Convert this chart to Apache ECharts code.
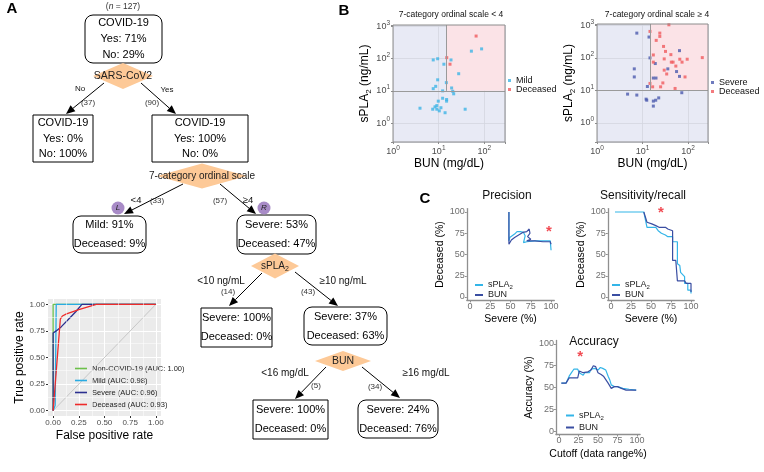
<!DOCTYPE html>
<html><head><meta charset="utf-8">
<script src="https://cdn.jsdelivr.net/npm/echarts@6/dist/echarts.min.js"></script>
<style>html,body{margin:0;padding:0;background:#fff}#c{width:764px;height:472px}</style>
</head><body><div id="c"></div>
<script>
// ================= DATA =================
// Panel A - decision tree texts
const rootBox = ['COVID-19', 'Yes: 71%', 'No: 29%'];
const noCovBox = ['COVID-19', 'Yes: 0%', 'No: 100%'];
const yesCovBox = ['COVID-19', 'Yes: 100%', 'No: 0%'];
const mildBox = ['Mild: 91%', 'Deceased: 9%'];
const severeBox = ['Severe: 53%', 'Deceased: 47%'];
const lowSplaBox = ['Severe: 100%', 'Deceased: 0%'];
const highSplaBox = ['Severe: 37%', 'Deceased: 63%'];
const lowBunBox = ['Severe: 100%', 'Deceased: 0%'];
const highBunBox = ['Severe: 24%', 'Deceased: 76%'];
const splitNames = ['SARS-CoV2', '7-category ordinal scale', '{a|sPLA}{s|2}', 'BUN'];
const edgeConds = ['No', 'Yes', '<4', '≥4', '<10 ng/mL', '≥10 ng/mL', '<16 mg/dL', '≥16 mg/dL'];
const edgeCounts = ['(37)', '(90)', '(33)', '(57)', '(14)', '(43)', '(5)', '(34)'];
const leafTags = ['L', 'R'];
const sampleSize = '{i|n}{r| = 127)}';

// Panel A - ROC curves [FPR, TPR]
const rocTicks = [0, 0.25, 0.5, 0.75, 1];
const rocMinorTicks = [0.125, 0.375, 0.625, 0.875];
const rocNames = ['Non-COVID-19 (AUC: 1.00)', 'Mild (AUC: 0.98)', 'Severe (AUC: 0.96)', 'Deceased (AUC: 0.93)'];
const rocDiagonal = [[0, 0], [1, 1]];
const rocNonCovid = [[0, 0], [0, 1], [1, 1]];
const rocMild = [[0, 0], [0.02, 0.05], [0.03, 1], [1, 1]];
const rocSevere = [[0, 0], [0, 0.73], [0.03, 0.75], [0.08, 0.79], [0.15, 0.86], [0.22, 0.93], [0.28, 1], [1, 1]];
const rocDeceased = [[0, 0], [0.07, 0.86], [0.09, 0.89], [0.13, 0.91], [0.25, 0.95], [0.42, 1], [1, 1]];

// Panel B - scatter [BUN mg/dL, sPLA2 ng/mL]
const bunCut = 15, splaCut = 10;
const bXMax = [283, 275];
const bYMin = 0.26, bYMax = 1100;
const mildLow = [[87,200],[52,170],[9.5,99],[7.6,91],[18.6,91],[13,67],[27.4,34],[9.5,22],[14.7,18],[8.6,13.8],[7.6,11.7],[19.2,12.3],[12.2,10],[20.3,9.7],[21.3,8.1],[12.2,5.9],[14.9,5.4],[14.9,4.8],[9.8,4.8],[9.1,3.5],[11.2,3.0],[8.3,3.2],[7.4,2.7],[9.1,2.7],[10.3,2.4],[3.9,2.9],[38,2.7],[13.8,2.1]];
const deceasedLow = [[66,500],[15,107],[17.7,67]];
const severeHigh = [[7.5,577],[13.9,437],[65,167],[14.6,100],[19.1,67],[6.6,46],[36,46],[56,38],[6.6,26],[17.3,24],[19.8,24],[65,27],[12.8,13.2],[4.7,7.7],[7.5,7.2],[73,8.5],[12,5.4],[12.4,5.0],[22.7,5.9],[17.3,4.7],[19.5,5.0],[17.3,3.3]];
const deceasedHigh = [[38,1040],[14.6,650],[24,577],[24,457],[20,345],[29,225],[32,158],[42,126],[17.3,123],[66,91],[96,91],[206,102],[17.3,74],[30,93],[43,74],[47,74],[54,56],[74,74],[30,42],[34,32],[86,26],[14.6,16.4],[16.7,12.9],[25,12.9],[28,17],[52,11.5]];

// Panel C
const pctTicks = [0, 25, 50, 75, 100];
const precSpla = [[48,100],[48,66],[49,70],[52,72],[55,74],[58,77],[62,77],[66,76],[68,72],[66,64],[70,65],[80,66],[90,66],[99,66],[100,64],[100,55]];
const precBun = [[48,100],[48,62],[51,67],[55,70],[60,73],[65,76],[70,77],[73,80],[74,75],[71,71],[75,68],[70,66],[80,66],[90,65],[99,65],[100,62]];
const sensSpla = [[5,100],[41,100],[45,82],[56,82],[59,78],[63,75],[68,73],[71,71],[77,71],[77,65],[83,65],[83,39],[86,37],[87,29],[92,24],[92,16],[96,16],[96,8],[100,8],[100,4]];
const sensBun = [[41,100],[45,88],[51,86],[56,84],[60,82],[68,82],[71,80],[77,78],[77,43],[81,43],[83,19],[92,19],[94,16],[100,16],[100,6]];
const accSpla = [[3,55],[9,55],[13,63],[16,67],[19,71],[24,71],[26,67],[31,64],[33,67],[39,67],[41,71],[46,72],[50,70],[53,73],[56,72],[60,70],[63,63],[65,59],[67,53],[71,51],[75,51],[82,49],[90,48],[99,47]];
const accBun = [[3,55],[9,55],[13,61],[20,61],[24,61],[26,69],[31,67],[33,69],[37,68],[41,70],[44,75],[47,74],[50,67],[54,65],[57,63],[60,59],[63,55],[67,49],[71,51],[75,51],[80,49],[86,47],[94,47],[99,47]];
const starPrec = [[97.5, 77]], starSens = [[62.5, 99]], starAcc = [[27, 85]];

// ================= LAYOUT / STYLE =================
const FONT = 'Liberation Sans, Arial, sans-serif';
const C_MILD = '#3DB4E6', C_DEC = '#F05A5E', C_SEV = '#4B5AAE';
const C_SPLA = '#33B5E8', C_BUN = '#3A4EA2';
const ROC_COLORS = ['#6CC04A', '#29ABE2', '#2B2F8F', '#EE2A2A'];

const boxLayout = [ // x, y, w, h, radius
  [85,15,77,48,8],[33,115,60,47,0],[152,115,96,47,0],[73,216,73,37,8],[237,215,79,39,8],
  [201,308,71,39,0],[304,307,83,38,8],[253,400,75,39,0],[358,400,80,38,8]
];
const boxTexts = [rootBox, noCovBox, yesCovBox, mildBox, severeBox, lowSplaBox, highSplaBox, lowBunBox, highBunBox];
const diamondLayout = [[123,76,30,13,10.5],[202,176,45,12.5,10],[275,266,24,12.5,10],[343,361,28,10,10.5]];
const arrowLayout = [[104,83,66,114],[141,83,176,114],[183,184,124,214],[220,184,256,214],[262,273,229,306],[295,272,338,306],[326,367,295,399],[362,367,400,398]];
const condLayout = [[80,89,8],[167,90,8],[136,200,9.5],[248,200,9.5],[221,281,10],[343,281,10],[285,373,10],[426,373,10]];
const countLayout = [[88,103],[152,103],[157,201],[220,201],[228,292],[308,292],[316,386],[375,387]];
const tagLayout = [[118,208],[264,208]];

function txt(x, y, text, size, extra) {
  return { type: 'text', silent: true, z: 20,
    style: Object.assign({ x: x, y: y, text: text, font: size + 'px ' + FONT, fill: '#000',
      textAlign: 'center', textVerticalAlign: 'middle' }, extra || {}) };
}
const graphics = [];
// panel letters
graphics.push(txt(12, 9, 'A', 15, { font: 'bold 15px ' + FONT }));
graphics.push(txt(344, 11, 'B', 15, { font: 'bold 15px ' + FONT }));
graphics.push(txt(425, 199, 'C', 15, { font: 'bold 15px ' + FONT }));
graphics.push(txt(123, 7, '(' + sampleSize, 8.5, { rich: { i: { fontStyle: 'italic', fontSize: 8.5, fontFamily: FONT, fill: '#333' }, r: { fontSize: 8.5, fontFamily: FONT, fill: '#333' } }, fill: '#333' }));
// boxes
boxLayout.forEach(function (b, i) {
  graphics.push({ type: 'rect', silent: true, z: 10, shape: { x: b[0], y: b[1], width: b[2], height: b[3], r: b[4] },
    style: { fill: '#fff', stroke: '#000', lineWidth: 1 } });
  const lines = boxTexts[i];
  lines.forEach(function (t, k) {
    graphics.push(txt(b[0] + b[2] / 2, b[1] + b[3] * (k + 0.5) / lines.length, t, 11));
  });
});
// diamonds
diamondLayout.forEach(function (d, i) {
  graphics.push({ type: 'polygon', silent: true, z: 10,
    shape: { points: [[d[0], d[1] - d[3]], [d[0] + d[2], d[1]], [d[0], d[1] + d[3]], [d[0] - d[2], d[1]]] },
    style: { fill: '#FDC997' } });
  graphics.push(txt(d[0], d[1], splitNames[i], d[4], { fill: '#222',
    rich: { a: { fontSize: d[4], fontFamily: FONT, fill: '#222' }, s: { fontSize: 7, fontFamily: FONT, fill: '#222', padding: [6, 0, 0, 0] } } }));
});
// arrows
arrowLayout.forEach(function (a) {
  const dx = a[2] - a[0], dy = a[3] - a[1], L = Math.sqrt(dx * dx + dy * dy);
  const ux = dx / L, uy = dy / L, nx = -uy, ny = ux;
  const bx = a[2] - ux * 9, by = a[3] - uy * 9;
  graphics.push({ type: 'line', silent: true, z: 10, shape: { x1: a[0], y1: a[1], x2: bx, y2: by }, style: { stroke: '#000', lineWidth: 1 } });
  graphics.push({ type: 'polygon', silent: true, z: 10,
    shape: { points: [[a[2], a[3]], [bx + nx * 3.8, by + ny * 3.8], [bx - nx * 3.8, by - ny * 3.8]] }, style: { fill: '#000' } });
});
condLayout.forEach(function (c, i) { graphics.push(txt(c[0], c[1], edgeConds[i], c[2], { fill: '#111' })); });
countLayout.forEach(function (c, i) { graphics.push(txt(c[0], c[1], edgeCounts[i], 8, { fill: '#333' })); });
tagLayout.forEach(function (c, i) {
  graphics.push({ type: 'circle', silent: true, z: 10, shape: { cx: c[0], cy: c[1], r: 6.5 }, style: { fill: '#A88BC7' } });
  graphics.push(txt(c[0], c[1], leafTags[i], 8, { font: 'italic 8px ' + FONT, fill: '#222' }));
});
// B panel frames
graphics.push({ type: 'rect', silent: true, z: 30, shape: { x: 393, y: 25, width: 112, height: 117 }, style: { fill: 'none', stroke: '#8c8c8c', lineWidth: 1 } });
graphics.push({ type: 'rect', silent: true, z: 30, shape: { x: 597, y: 24, width: 111, height: 118 }, style: { fill: 'none', stroke: '#8c8c8c', lineWidth: 1 } });

// ================= AXES =================
function rocAxis(isY) {
  return {
    type: 'value', gridIndex: 0, min: -0.05, max: 1.05,
    axisLine: { show: false, onZero: false },
    axisTick: { show: true, customValues: rocTicks, length: 2, lineStyle: { color: '#333' } },
    axisLabel: { customValues: rocTicks, fontSize: 8, color: '#4D4D4D', margin: 3, fontFamily: FONT,
      formatter: function (v) { return v.toFixed(2); } },
    splitLine: { show: true, lineStyle: { color: '#fff', width: 1 } },
    name: isY ? 'True positive rate' : 'False positive rate', nameLocation: 'middle', nameGap: isY ? 22 : 13.5,
    nameTextStyle: { fontSize: 12, color: '#000', fontFamily: FONT }
  };
}
function supFmt(v) {
  const e = Math.log10(v);
  if (Math.abs(e - Math.round(e)) > 1e-6) return '';
  return '{b|10}{s|' + Math.round(e) + '}';
}
const supRich = { b: { fontSize: 9, color: '#4D4D4D', fontFamily: FONT }, s: { fontSize: 6.5, color: '#4D4D4D', fontFamily: FONT, padding: [0, 0, 7, 0] } };
function logAxis(grid, isY, max, min) {
  return {
    type: 'log', logBase: 10, gridIndex: grid, min: min, max: max,
    axisLine: { show: false, onZero: false },
    axisTick: { show: true, length: 2, lineStyle: { color: '#8c8c8c' } },
    axisLabel: { formatter: supFmt, rich: supRich, margin: 3, showMinLabel: true, showMaxLabel: true },
    splitLine: { show: true, lineStyle: { color: '#D3D6E0', width: 0.8 } },
    name: isY ? '{a|sPLA}{s|2}{a| (ng/mL)}' : 'BUN (mg/dL)', nameLocation: 'middle', nameGap: isY ? 17 : 14,
    nameTextStyle: { fontSize: 12, color: '#000', fontFamily: FONT,
      rich: { a: { fontSize: 12, color: '#000', fontFamily: FONT }, s: { fontSize: 8, color: '#000', fontFamily: FONT, padding: [7, 0, 0, 0] } } }
  };
}
function pctAxis(grid, name, gap) {
  return {
    type: 'value', gridIndex: grid, min: -4, max: 104,
    axisLine: { show: true, onZero: false, lineStyle: { color: '#8f8f8f', width: 1.3 } },
    axisTick: { show: true, customValues: pctTicks, length: 2, lineStyle: { color: '#8f8f8f' } },
    axisLabel: { customValues: pctTicks, fontSize: 9, color: '#6f6f6f', margin: 2, fontFamily: FONT },
    splitLine: { show: false },
    name: name, nameLocation: 'middle', nameGap: gap,
    nameTextStyle: { fontSize: 10.5, color: '#000', fontFamily: FONT }
  };
}

// ================= SERIES =================
function lineS(name, data, color, xi, width) {
  return { type: 'line', name: name, data: data, xAxisIndex: xi, yAxisIndex: xi, symbol: 'none', silent: true,
    lineStyle: { color: color, width: width || 1.2 }, itemStyle: { color: color }, z: 3 };
}
function dotS(name, data, color, xi) {
  return { type: 'scatter', name: name, data: data, xAxisIndex: xi, yAxisIndex: xi, symbol: 'rect', symbolSize: 3,
    itemStyle: { color: color }, silent: true, z: 4 };
}
function starS(data, xi) {
  return { type: 'scatter', data: data, xAxisIndex: xi, yAxisIndex: xi, symbolSize: 1, silent: true,
    itemStyle: { color: 'rgba(0,0,0,0)' },
    label: { show: true, position: 'inside', formatter: '*', color: '#EE1C25', fontSize: 15, fontWeight: 'bold', fontFamily: FONT }, z: 5 };
}
const series = [];
series.push(Object.assign(lineS('diag', rocDiagonal, '#BDBDBD', 0, 0.8), {
  markLine: { silent: true, symbol: ['none', 'none'], label: { show: false }, animation: false,
    lineStyle: { color: '#fff', width: 0.5, type: 'solid' },
    data: rocMinorTicks.map(function (v) { return { xAxis: v }; }).concat(rocMinorTicks.map(function (v) { return { yAxis: v }; })) }
}));
series.push(lineS(rocNames[0], rocNonCovid, ROC_COLORS[0], 0, 1.3));
series.push(lineS(rocNames[1], rocMild, ROC_COLORS[1], 0, 1.3));
series.push(lineS(rocNames[2], rocSevere, ROC_COLORS[2], 0, 1.3));
series.push(lineS(rocNames[3], rocDeceased, ROC_COLORS[3], 0, 1.3));

function bMarks(maxX) {
  return {
    markArea: { silent: true, itemStyle: { color: '#FBE3E7' }, data: [[{ coord: [bunCut, splaCut] }, { coord: [maxX, bYMax] }]] },
    markLine: { silent: true, symbol: ['none', 'none'], label: { show: false }, animation: false,
      lineStyle: { color: '#9a9a9a', width: 1, type: 'solid' },
      data: [[{ coord: [bunCut, splaCut] }, { coord: [bunCut, bYMax] }], { yAxis: splaCut }] }
  };
}
series.push(Object.assign(dotS('Mild', mildLow, C_MILD, 1), bMarks(bXMax[0])));
series.push(dotS('Deceased', deceasedLow, C_DEC, 1));
series.push(Object.assign(dotS('Severe', severeHigh, C_SEV, 2), bMarks(bXMax[1])));
series.push(dotS('Deceased ', deceasedHigh, C_DEC, 2));

series.push(lineS('sPLA2', precSpla, C_SPLA, 3));
series.push(lineS('BUN', precBun, C_BUN, 3));
series.push(starS(starPrec, 3));
series.push(lineS('sPLA2 ', sensSpla, C_SPLA, 4));
series.push(lineS('BUN ', sensBun, C_BUN, 4));
series.push(starS(starSens, 4));
series.push(lineS('sPLA2  ', accSpla, C_SPLA, 5));
series.push(lineS('BUN  ', accBun, C_BUN, 5));
series.push(starS(starAcc, 5));

// ================= LEGENDS =================
function cLegend(names, left, top, gap) {
  return { data: names, left: left, top: top, orient: 'vertical', icon: 'rect', itemWidth: 8, itemHeight: 2, itemGap: gap,
    padding: 0, selectedMode: false,
    formatter: function (n) { n = n.trim(); return n === 'sPLA2' ? '{a|sPLA}{s|2}' : '{a|' + n + '}'; },
    textStyle: { fontSize: 9, lineHeight: 9, color: '#222', fontFamily: FONT,
      rich: { a: { fontSize: 9, color: '#222', fontFamily: FONT }, s: { fontSize: 6, color: '#222', fontFamily: FONT, padding: [5, 0, 0, 0] } } } };
}
function bLegend(names, left, top) {
  return { data: names, left: left, top: top, orient: 'vertical', icon: 'rect', itemWidth: 3, itemHeight: 3, itemGap: 0,
    padding: 0, selectedMode: false, textStyle: { fontSize: 9, lineHeight: 9, color: '#111', fontFamily: FONT } };
}
const legends = [
  { data: rocNames, left: 75, top: 363, orient: 'vertical', icon: 'rect', itemWidth: 12, itemHeight: 1.6, itemGap: 1,
    padding: 0, selectedMode: false, textStyle: { fontSize: 7.5, lineHeight: 11, color: '#222', fontFamily: FONT } },
  bLegend(['Mild', 'Deceased'], 508, 76),
  bLegend(['Severe', 'Deceased '], 711, 78),
  cLegend(['sPLA2', 'BUN'], 475, 280.5, 0),
  cLegend(['sPLA2 ', 'BUN '], 612, 280.5, 0),
  cLegend(['sPLA2  ', 'BUN  '], 566, 411, 2)
];

function title(text, x, y, size) {
  return { text: text, left: x, top: y, textAlign: 'center', padding: 0,
    textStyle: { fontSize: size, fontWeight: 'normal', color: '#111', fontFamily: FONT } };
}

const option = {
  animation: false,
  backgroundColor: '#fff',
  title: [
    title('7-category ordinal scale < 4', 451, 10, 8.5),
    title('7-category ordinal scale ≥ 4', 657, 10, 8.5),
    title('Precision', 507, 190, 12),
    title('Sensitivity/recall', 643, 190, 12),
    title('Accuracy', 594, 336, 12)
  ],
  grid: [
    { left: 48, top: 299, width: 113, height: 117, show: true, backgroundColor: '#EBEBEB', borderWidth: 0, outerBoundsMode: 'none' },
    { left: 393, top: 25, width: 112, height: 117, show: true, backgroundColor: '#E8EAF5', borderWidth: 0, outerBoundsMode: 'none' },
    { left: 597, top: 24, width: 111, height: 118, show: true, backgroundColor: '#E8EAF5', borderWidth: 0, outerBoundsMode: 'none' },
    { left: 466.8, top: 208.6, width: 87.5, height: 91.8, outerBoundsMode: 'none' },
    { left: 607.8, top: 208.6, width: 86.4, height: 91.8, outerBoundsMode: 'none' },
    { left: 555.9, top: 340.5, width: 84.2, height: 94, outerBoundsMode: 'none' }
  ],
  xAxis: [
    rocAxis(false),
    logAxis(1, false, bXMax[0], 1),
    logAxis(2, false, bXMax[1], 1),
    pctAxis(3, 'Severe (%)', 13.5),
    pctAxis(4, 'Severe (%)', 13.5),
    pctAxis(5, 'Cutoff (data range%)', 14.5)
  ],
  yAxis: [
    rocAxis(true),
    logAxis(1, true, bYMax, bYMin),
    logAxis(2, true, bYMax, bYMin),
    pctAxis(3, 'Deceased (%)', 17),
    pctAxis(4, 'Deceased (%)', 16),
    pctAxis(5, 'Accuracy (%)', 18)
  ],
  legend: legends,
  series: series,
  graphic: { elements: graphics }
};
const chart = echarts.init(document.getElementById('c'), null, { renderer: 'canvas', width: 764, height: 472 });
chart.setOption(option);
</script>
</body></html>
